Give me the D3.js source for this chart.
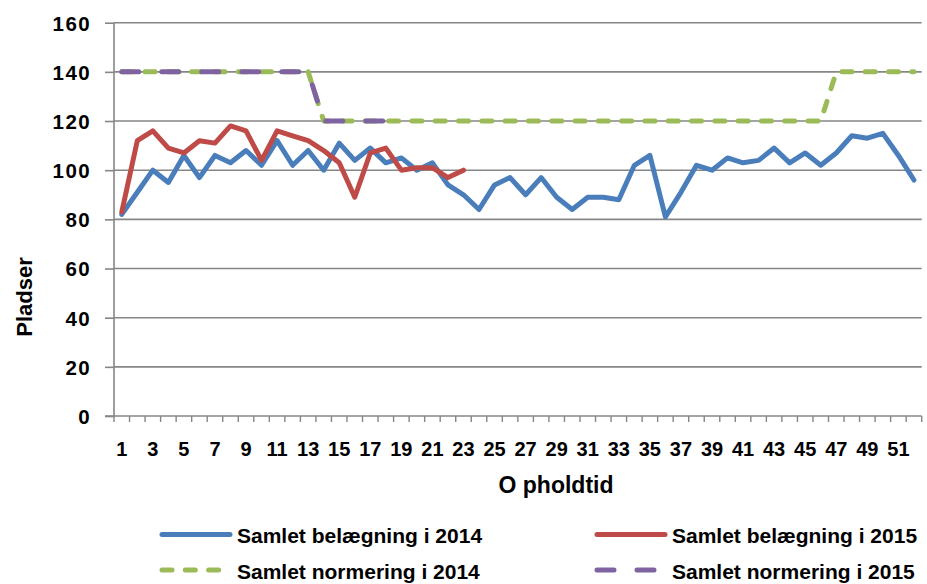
<!DOCTYPE html>
<html>
<head>
<meta charset="utf-8">
<script src="https://cdn.jsdelivr.net/npm/d3@7"></script>
<style>
  html, body { margin: 0; padding: 0; background: #fff; }
  svg text { font-family: "Liberation Sans", Arial, Helvetica, sans-serif; font-weight: bold; fill: #000; }
</style>
</head>
<body>
<svg id="chart" width="927" height="584"></svg>
<script>
// ---- Data ----
const weeks = d3.range(1, 53); // Opholdtid 1..52
const belaegning2014 = [82, 91, 100, 95, 106, 97, 106, 103, 108, 102, 112, 102, 108, 100, 111, 104, 109, 103, 105, 100,
  103, 94, 90, 84, 94, 97, 90, 97, 89, 84, 89, 89, 88, 102, 106, 81, 91, 102, 100, 105,
  103, 104, 109, 103, 107, 102, 107, 114, 113, 115, 106, 96];
const belaegning2015 = [83, 112, 116, 109, 107, 112, 111, 118, 116, 104, 116, 114, 112, 108, 103, 89, 107, 109, 100, 101,
  101, 97, 100];
const normering2014 = [140, 140, 140, 140, 140, 140, 140, 140, 140, 140, 140, 140, 140, 120, 120, 120, 120, 120, 120, 120,
  120, 120, 120, 120, 120, 120, 120, 120, 120, 120, 120, 120, 120, 120, 120, 120, 120, 120, 120, 120,
  120, 120, 120, 120, 120, 120, 140, 140, 140, 140, 140, 140];
const normering2015 = [140, 140, 140, 140, 140, 140, 140, 140, 140, 140, 140, 140, 140, 120, 120, 120, 120, 120, 120];
const yTicks = [0, 20, 40, 60, 80, 100, 120, 140, 160];
const xTickLabels = weeks.filter(d => d % 2 === 1);

const seriesNames = ["Samlet belægning i 2014", "Samlet belægning i 2015", "Samlet normering i 2014", "Samlet normering i 2015"];
const seriesColors = ["#4A7EBB", "#BE4B48", "#9BBB59", "#7F63A1"];
const seriesDash = [null, null, "10,13.3", "17,23"];
const seriesValues = [belaegning2014, belaegning2015, normering2014, normering2015];

// ---- Layout ----
const svg = d3.select("#chart");
const plotLeft = 114, plotRight = 921.7, plotTop = 22.7, plotBottom = 416;

const x = d3.scaleBand().domain(weeks).range([plotLeft, plotRight]).paddingInner(0).paddingOuter(0);
const y = d3.scaleLinear().domain([0, 160]).range([plotBottom, plotTop]);
const cx = d => x(d) + x.bandwidth() / 2;

const gridColor = "#868686";

// gridlines
svg.append("g").selectAll("line").data(yTicks.filter(d => d > 0)).join("line")
  .attr("x1", plotLeft).attr("x2", plotRight)
  .attr("y1", d => y(d)).attr("y2", d => y(d))
  .attr("stroke", gridColor).attr("stroke-width", 1.6);

// y axis
const yAxis = d3.axisLeft(y).tickValues(yTicks).tickSize(9).tickPadding(0).tickFormat(d3.format("d"));
const gy = svg.append("g").attr("transform", `translate(${plotLeft},0)`).call(yAxis);
gy.select(".domain").attr("stroke", gridColor).attr("stroke-width", 1.6).attr("d", `M0,${plotBottom}V${plotTop}`);
gy.selectAll(".tick line").attr("stroke", gridColor).attr("stroke-width", 1.6);
gy.selectAll(".tick text").attr("x", -23).attr("dy", "0.36em")
  .style("font-size", "20.5px").style("letter-spacing", "1.4px").attr("fill", "#000");

// x axis baseline
svg.append("line").attr("x1", plotLeft - 9).attr("x2", plotRight).attr("y1", plotBottom).attr("y2", plotBottom)
  .attr("stroke", gridColor).attr("stroke-width", 1.6);
// x ticks between categories
const boundaries = weeks.map(d => x(d)).concat([plotRight]);
svg.append("g").selectAll("line").data(boundaries).join("line")
  .attr("x1", d => d).attr("x2", d => d).attr("y1", plotBottom).attr("y2", plotBottom + 6)
  .attr("stroke", gridColor).attr("stroke-width", 1.4);
// x tick labels
svg.append("g").selectAll("text").data(xTickLabels).join("text")
  .attr("x", d => cx(d)).attr("y", 455.5).attr("text-anchor", "middle")
  .style("font-size", "20px").text(d => d);

// axis titles
svg.append("text").attr("x", 556).attr("y", 493).attr("text-anchor", "middle")
  .style("font-size", "23px").text("O pholdtid");
svg.append("text").attr("transform", "translate(32,297) rotate(-90)").attr("text-anchor", "middle")
  .style("font-size", "22px").text("Pladser");

// lines
const line = d3.line().x((d, i) => cx(weeks[i])).y(d => y(d)).curve(d3.curveLinear);
seriesValues.forEach((vals, k) => {
  svg.append("path").datum(vals)
    .attr("d", line)
    .attr("fill", "none")
    .attr("stroke", seriesColors[k])
    .attr("stroke-width", 5)
    .attr("stroke-linejoin", "round")
    .attr("stroke-linecap", "round")
    .attr("stroke-dasharray", seriesDash[k]);
});

// legend
const legendPos = [
  { lx: 160, ly: 534.5, tx: 237, ty: 543 },
  { lx: 595, ly: 534.5, tx: 672, ty: 543 },
  { lx: 160, ly: 570, tx: 237, ty: 578.5 },
  { lx: 595, ly: 570, tx: 672, ty: 578.5 }
];
seriesNames.forEach((name, k) => {
  const p = legendPos[k];
  svg.append("line").attr("x1", p.lx + 2).attr("x2", p.lx + 70).attr("y1", p.ly).attr("y2", p.ly)
    .attr("stroke", seriesColors[k]).attr("stroke-width", 5).attr("stroke-linecap", "round")
    .attr("stroke-dasharray", seriesDash[k]);
  svg.append("text").attr("x", p.tx).attr("y", p.ty).style("font-size", "21px").text(name);
});
</script>
</body>
</html>
